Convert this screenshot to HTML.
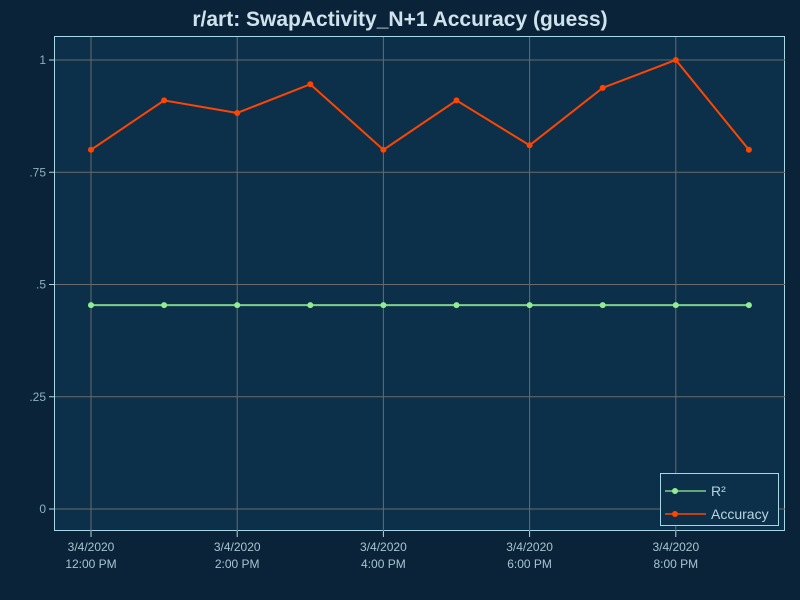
<!DOCTYPE html>
<html><head><meta charset="utf-8"><style>
html,body{margin:0;padding:0;background:#0a2338;}
svg{display:block;font-family:"Liberation Sans","DejaVu Sans",sans-serif;}
</style></head><body>
<svg id="chart" width="800" height="600" viewBox="0 0 800 600">
<rect x="0" y="0" width="800" height="600" fill="#0a2338"/>
<text x="400" y="26" text-anchor="middle" font-size="21" font-weight="bold" fill="#cfe3ee">r/art: SwapActivity_N+1 Accuracy (guess)</text>
<rect x="54.5" y="36.5" width="730" height="494" fill="#0c304a" stroke="#a8d8e8" stroke-width="1"/>
<g id="grid"></g>
<g id="axes"></g>
<g id="series"></g>
<g>
<rect x="660.5" y="473.5" width="118" height="52" fill="#0c304a" stroke="#a8d8e8"/>
<g>
<line x1="665" y1="491" x2="706" y2="491" stroke="#7fd08a" stroke-width="1.5"/>
<circle cx="675" cy="491" r="3" fill="#90ee90"/>
<text x="711" y="496" font-size="14" fill="#b8d4e0">R²</text></g>
<g>
<line x1="665" y1="514" x2="706" y2="514" stroke="#ff4500" stroke-width="1.5"/>
<circle cx="675" cy="514" r="3" fill="#ff4500"/>
<text x="711" y="519" font-size="14" fill="#b8d4e0">Accuracy</text></g>
</g>
</svg>
<script>
const hours = [0,1,2,3,4,5,6,7,8,9];
const accuracy = [0.80,0.91,0.882,0.946,0.80,0.91,0.81,0.938,1.0,0.80];
const r2 = [0.454,0.454,0.454,0.454,0.454,0.454,0.454,0.454,0.454,0.454];
const yTicks = [0,0.25,0.5,0.75,1];
const yTickLabels = ["0",".25",".5",".75","1"];
const xTicks = [0,2,4,6,8];
const xTickLabels = ["12:00 PM","2:00 PM","4:00 PM","6:00 PM","8:00 PM"];
const xDate = "3/4/2020";

const NS="http://www.w3.org/2000/svg";
function X(h){return 91+h*73.1;}
function Y(v){return 509-v*449;}
function mk(tag,attrs,parent){const e=document.createElementNS(NS,tag);for(const k in attrs)e.setAttribute(k,attrs[k]);parent.appendChild(e);return e;}
const grid=document.getElementById('grid'),axes=document.getElementById('axes'),series=document.getElementById('series');
yTicks.forEach((v,i)=>{
  const l=mk('line',{x1:55,x2:785,y1:Y(v),y2:Y(v),stroke:'#6a6a6a','stroke-width':1},grid);
  
  
  mk('line',{x1:49,x2:55,y1:Y(v),y2:Y(v),stroke:'#a8d8e8'},axes);
  const t=mk('text',{x:46,y:Y(v)+4,'text-anchor':'end','font-size':12,fill:'#8fb0c0'},axes);
  t.textContent=yTickLabels[i];
  
  
});
xTicks.forEach((h,i)=>{
  const l=mk('line',{x1:X(h),x2:X(h),y1:37,y2:531,stroke:'#6a6a6a','stroke-width':1},grid);
  
  
  mk('line',{x1:X(h),x2:X(h),y1:531,y2:537,stroke:'#a8d8e8'},axes);
  const t1=mk('text',{x:X(h),y:551,'text-anchor':'middle','font-size':12,fill:'#a8c4d2'},axes);
  t1.textContent=xDate;
  
  
  const t2=mk('text',{x:X(h),y:568,'text-anchor':'middle','font-size':12,fill:'#a8c4d2'},axes);
  t2.textContent=xTickLabels[i];
  
  
});
function draw(vals,color,lineColor,name){
  const p=mk('polyline',{points:hours.map((h,i)=>X(h)+','+Y(vals[i])).join(' '),fill:'none',stroke:lineColor,'stroke-width':2},series);
  
  
  hours.forEach((h,i)=>{
    const c=mk('circle',{cx:X(h),cy:Y(vals[i]),r:3,fill:color},series);
    
    
  });
}
draw(r2,'#90ee90','#7fd08a','r2');
draw(accuracy,'#ff4500','#ff4500','accuracy');
</script>
</body></html>
